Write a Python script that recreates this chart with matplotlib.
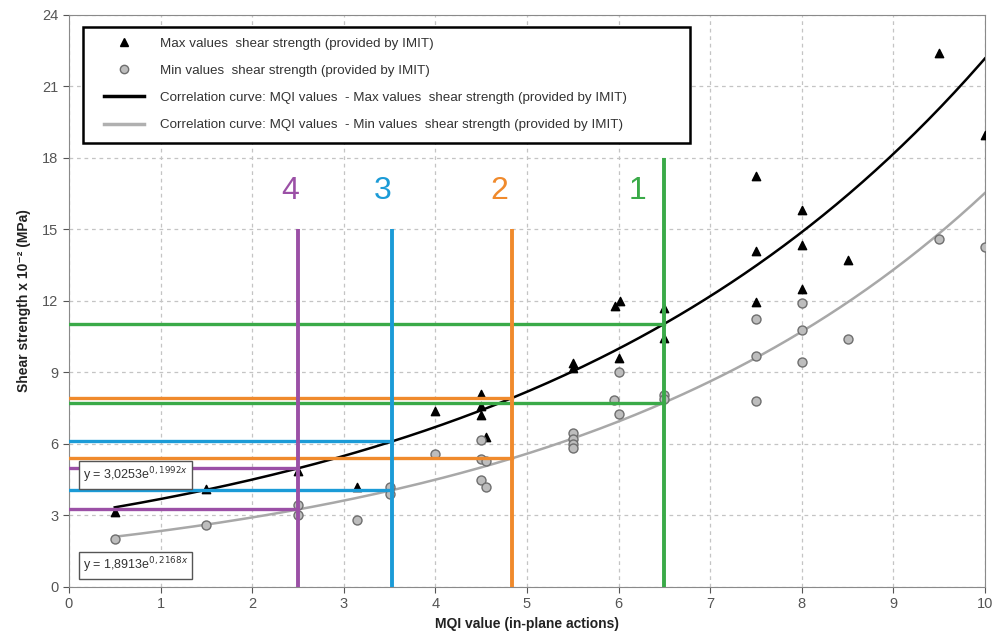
import numpy as np
import matplotlib
matplotlib.use("Agg")
import matplotlib.pyplot as plt
from matplotlib.lines import Line2D
from matplotlib.patches import Rectangle

plt.rcParams['font.family'] = ['Liberation Sans', 'DejaVu Sans']

# max shear strength values (triangles)
max_x = [0.5, 1.5, 2.5, 3.15, 4.0, 4.5, 4.5, 4.5, 4.55, 5.5, 5.5, 6.0, 5.96, 6.02,
         6.5, 6.5, 7.5, 7.5, 7.5, 8.0, 8.0, 8.0, 8.5, 9.5, 10.0]
max_y = [3.15, 4.1, 4.85, 4.2, 7.4, 8.1, 7.6, 7.2, 6.3, 9.2, 9.4, 9.6, 11.8, 12.0,
         11.7, 10.45, 17.25, 14.1, 11.95, 15.8, 14.35, 12.5, 13.7, 22.4, 18.95]

# min shear strength values (circles)
min_x = [0.5, 1.5, 2.5, 2.5, 3.15, 3.5, 3.5, 4.0, 4.5, 4.5, 4.55, 4.5, 4.55,
         5.5, 5.5, 5.5, 5.5, 6.0, 5.95, 6.0, 6.5, 6.5, 7.5, 7.5, 7.5,
         8.0, 8.0, 8.0, 8.5, 9.5, 10.0]
min_y = [2.0, 2.6, 3.45, 3.0, 2.8, 4.2, 3.9, 5.6, 6.15, 5.35, 5.3, 4.5, 4.2,
         6.45, 6.2, 6.0, 5.85, 9.0, 7.85, 7.25, 8.05, 7.9, 11.25, 9.7, 7.8,
         11.9, 10.8, 9.45, 10.4, 14.6, 14.25]

# exponential fits y = a * exp(b * x)
fit_max = (3.0253, 0.1992)
fit_min = (1.8913, 0.2168)

# MQI thresholds with their labels and colours
thr_x = [6.5, 4.84, 3.53, 2.5]
thr_top = [18, 15, 15, 15]
thr_lab = ['1', '2', '3', '4']
thr_lab_x = [6.21, 4.70, 3.43, 2.42]
thr_col = ['#3aaa48', '#f08a2c', '#1b9bd7', '#9b50a6']

fig = plt.figure(figsize=(9.95, 6.43), dpi=100)
ax = fig.add_axes([0.0693, 0.0871, 0.9206, 0.8896])

xc = np.linspace(0.5, 10, 200)
ax.plot(xc, fit_max[0] * np.exp(fit_max[1] * xc), color='black', lw=1.8, zorder=3)
ax.plot(xc, fit_min[0] * np.exp(fit_min[1] * xc), color='#a8a8a8', lw=1.8, zorder=3)

ax.scatter(max_x, max_y, marker='^', s=36, color='black', zorder=4)
ax.scatter(min_x, min_y, marker='o', s=42, facecolor='#bdbdbd', edgecolor='#6e6e6e',
           linewidth=1.0, zorder=4)

for x, top, lab, lx, c in zip(thr_x, thr_top, thr_lab, thr_lab_x, thr_col):
    ym = fit_max[0] * np.exp(fit_max[1] * x)
    yn = fit_min[0] * np.exp(fit_min[1] * x)
    ax.plot([x, x], [0, top], color=c, lw=2.8, zorder=5, solid_capstyle='butt')
    ax.plot([0, x], [ym, ym], color=c, lw=2.4, zorder=5)
    ax.plot([0, x], [yn, yn], color=c, lw=2.4, zorder=5)
    ax.text(lx, 16.6, lab, color=c, fontsize=23, ha='center', va='center')

box = dict(boxstyle='square,pad=0.3', facecolor='white', edgecolor='#555555', lw=1.0)
ax.text(0.15, 4.7, r'y = 3,0253e$^{0,1992x}$', fontsize=9, color='#333333',
        va='center', ha='left', bbox=box, zorder=6)
ax.text(0.15, 0.9, r'y = 1,8913e$^{0,2168x}$', fontsize=9, color='#333333',
        va='center', ha='left', bbox=box, zorder=6)

ax.set_xlim(0, 10)
ax.set_ylim(0, 24)
ax.set_xticks(range(0, 11))
ax.set_yticks(range(0, 25, 3))
ax.tick_params(colors='#555555', labelsize=10.5, length=4, direction='out')
ax.grid(True, color='#c4c4c4', linestyle=(0, (3, 3)), lw=0.9)
for s in ax.spines.values():
    s.set_color('#8a8a8a')

ax.set_xlabel('MQI value (in-plane actions)', fontsize=10, fontweight='bold',
              color='#222222', labelpad=4)
ax.set_ylabel('Shear strength x 10⁻² (MPa)', fontsize=10, fontweight='bold',
              color='#222222', labelpad=8)

# legend frame drawn separately so the entries can sit further in
ax.add_patch(Rectangle((0.015, 0.776), 0.663, 0.203, transform=ax.transAxes,
                       facecolor='white', edgecolor='black', lw=1.8, zorder=5.5))

handles = [
    Line2D([], [], marker='^', color='black', ls='none', markersize=6),
    Line2D([], [], marker='o', markerfacecolor='#bdbdbd', markeredgecolor='#6e6e6e',
           ls='none', markersize=6),
    Line2D([], [], color='black', lw=2.5),
    Line2D([], [], color='#b0b0b0', lw=2.5),
]
labels = [
    'Max values  shear strength (provided by IMIT)',
    'Min values  shear strength (provided by IMIT)',
    'Correlation curve: MQI values  - Max values  shear strength (provided by IMIT)',
    'Correlation curve: MQI values  - Min values  shear strength (provided by IMIT)',
]
leg = ax.legend(handles, labels, loc='upper left',
                bbox_to_anchor=(0.038, 0.961), fontsize=9.6, frameon=False,
                handlelength=3.0, handletextpad=1.2, labelspacing=1.12,
                borderpad=0.0, borderaxespad=0.0)
leg.set_zorder(6)
for t in leg.get_texts():
    t.set_color('#333333')

fig.savefig('out.png', dpi=100)
